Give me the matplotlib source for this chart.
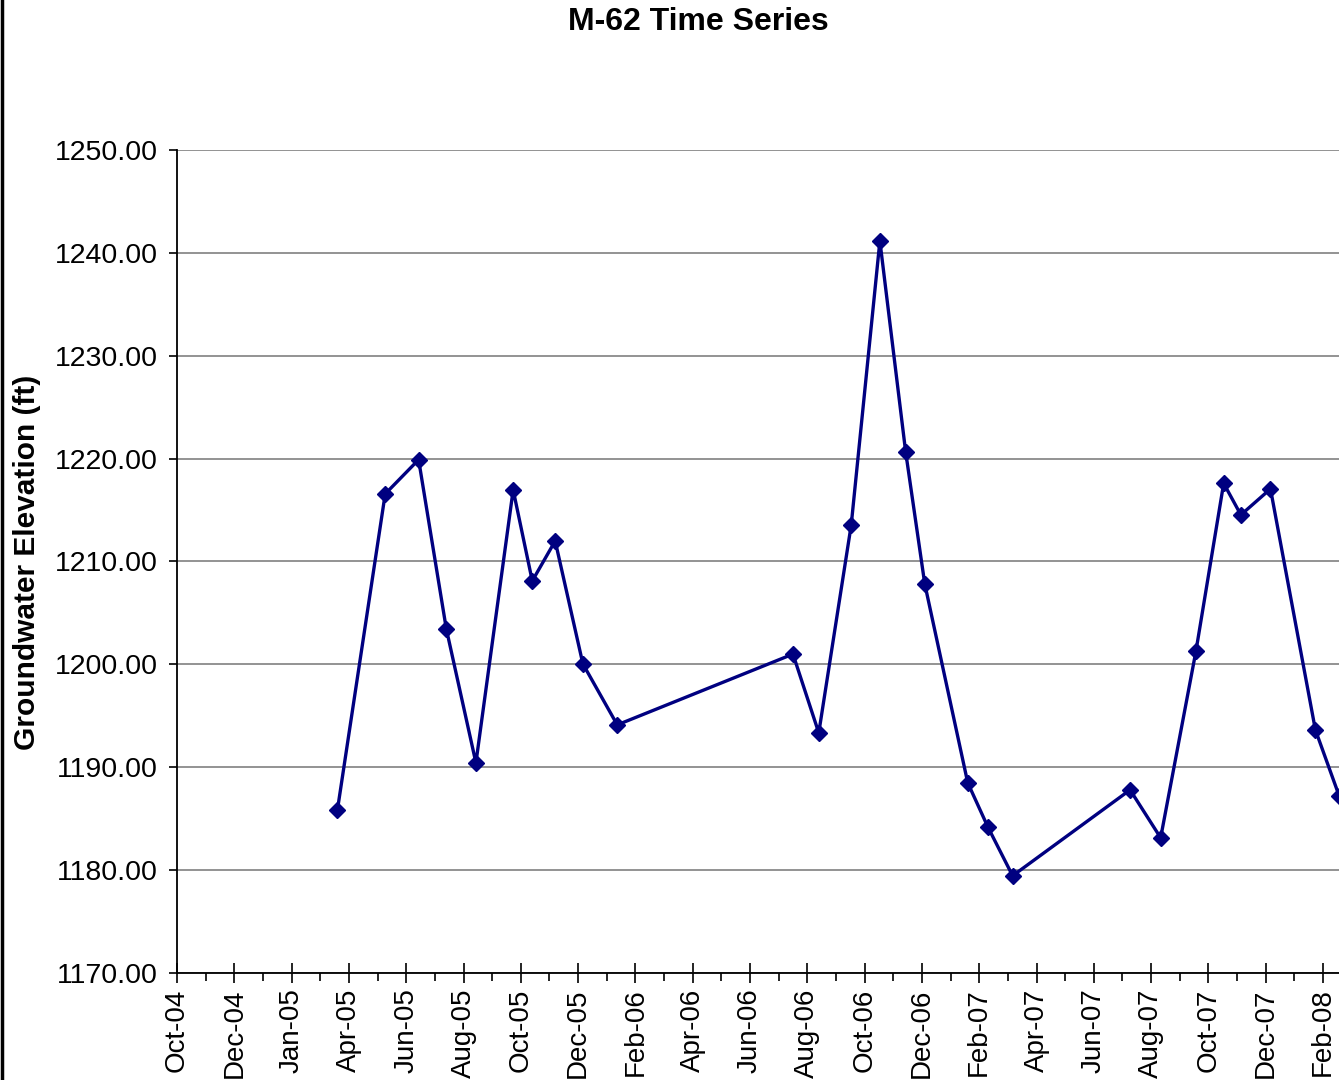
"""
M-62 groundwater elevation time series, drawn in the Excel style.
"""

import datetime as dt

import matplotlib.dates as mdates
import matplotlib.pyplot as plt
from matplotlib.lines import Line2D
from matplotlib.ticker import FixedLocator, MultipleLocator

plt.rcParams["font.family"] = ["Liberation Sans", "DejaVu Sans"]

# sample dates and groundwater elevations (ft)
sample_dates = [
    "2005-03-18", "2005-05-07", "2005-06-11", "2005-07-10", "2005-08-10",
    "2005-09-18", "2005-10-08", "2005-11-01", "2005-11-30", "2006-01-05",
    "2006-07-08", "2006-08-04", "2006-09-07", "2006-10-07", "2006-11-03",
    "2006-11-23", "2007-01-07", "2007-01-28", "2007-02-23", "2007-06-26",
    "2007-07-28", "2007-09-03", "2007-10-02", "2007-10-20", "2007-11-20",
    "2008-01-06", "2008-01-31",
]
elevation = [
    1185.86, 1216.57, 1219.90, 1203.45, 1190.43,
    1216.96, 1208.11, 1212.00, 1200.05, 1194.12,
    1201.00, 1193.34, 1213.56, 1241.16, 1220.65,
    1207.82, 1188.49, 1184.21, 1179.45, 1187.80,
    1183.14, 1201.31, 1217.60, 1214.53, 1217.06,
    1193.64, 1187.20,
]

# axis labels as printed under the ticks (60-day step)
tick_labels = [
    "Oct-04", "Dec-04", "Jan-05", "Apr-05", "Jun-05", "Aug-05", "Oct-05",
    "Dec-05", "Feb-06", "Apr-06", "Jun-06", "Aug-06", "Oct-06", "Dec-06",
    "Feb-07", "Apr-07", "Jun-07", "Aug-07", "Oct-07", "Dec-07", "Feb-08",
]
axis_start = "2004-10-01"
tick_step_days = 60


def to_num(s: str) -> float:
    """Convert an ISO date string to a matplotlib date number."""
    return mdates.date2num(dt.datetime.strptime(s, "%Y-%m-%d"))


def main() -> None:
    """Draw the chart and save it."""
    W, H = 1339, 1080
    fig = plt.figure(figsize=(W / 100, H / 100), dpi=100)
    fig.patch.set_facecolor("white")

    # plot area in pixels: left 177, top 150, bottom 973, right beyond the image
    left, right, top, bottom = 177, 1400, 150, 973
    ax = fig.add_axes([left / W, 1 - bottom / H, (right - left) / W, (bottom - top) / H])

    x0 = to_num(axis_start)
    xs = [to_num(d) for d in sample_dates]
    days_per_px = tick_step_days / 57.3
    ax.set_xlim(x0, x0 + (right - left) * days_per_px)
    ax.set_ylim(1170, 1250)

    ticks = [x0 + i * tick_step_days for i in range(len(tick_labels))]
    ax.xaxis.set_major_locator(FixedLocator(ticks))
    ax.xaxis.set_minor_locator(FixedLocator([t + tick_step_days / 2 for t in ticks]))
    ax.set_xticklabels(tick_labels, rotation=90, fontsize=20)

    ax.yaxis.set_major_locator(MultipleLocator(10))
    ax.yaxis.set_major_formatter(plt.FuncFormatter(lambda v, p: f"{v:.2f}"))
    ax.tick_params(axis="y", labelsize=20.5, direction="out", length=6, width=1.2, pad=8)
    ax.tick_params(axis="x", which="major", direction="inout", length=14, width=1.2, pad=4)
    ax.tick_params(axis="x", which="minor", direction="out", length=6, width=1.2)

    ax.grid(axis="y", color="#808080", linewidth=1.2)
    ax.set_axisbelow(True)
    for side in ["top", "right"]:
        ax.spines[side].set_visible(False)
    for side in ["left", "bottom"]:
        ax.spines[side].set_color("black")
        ax.spines[side].set_linewidth(1.3)

    ax.plot(
        xs, elevation, color="#000080", linewidth=2.4,
        marker="D", markersize=8, markerfacecolor="#000080",
        markeredgecolor="#000080", clip_on=True,
    )

    fig.text(27 / W, 1 - 562 / H, "Groundwater Elevation (ft)", fontsize=21.5,
             fontweight="bold", rotation=90, ha="center", va="center")
    fig.text(698 / W, 1 - 22 / H, "M-62 Time Series", fontsize=23, fontweight="bold",
             ha="center", va="center")

    # outer chart border on the left edge
    fig.add_artist(Line2D([1.5 / W, 1.5 / W], [0, 1], color="black", linewidth=2.5,
                          transform=fig.transFigure))

    fig.savefig("out.png", dpi=100)


if __name__ == "__main__":
    main()
